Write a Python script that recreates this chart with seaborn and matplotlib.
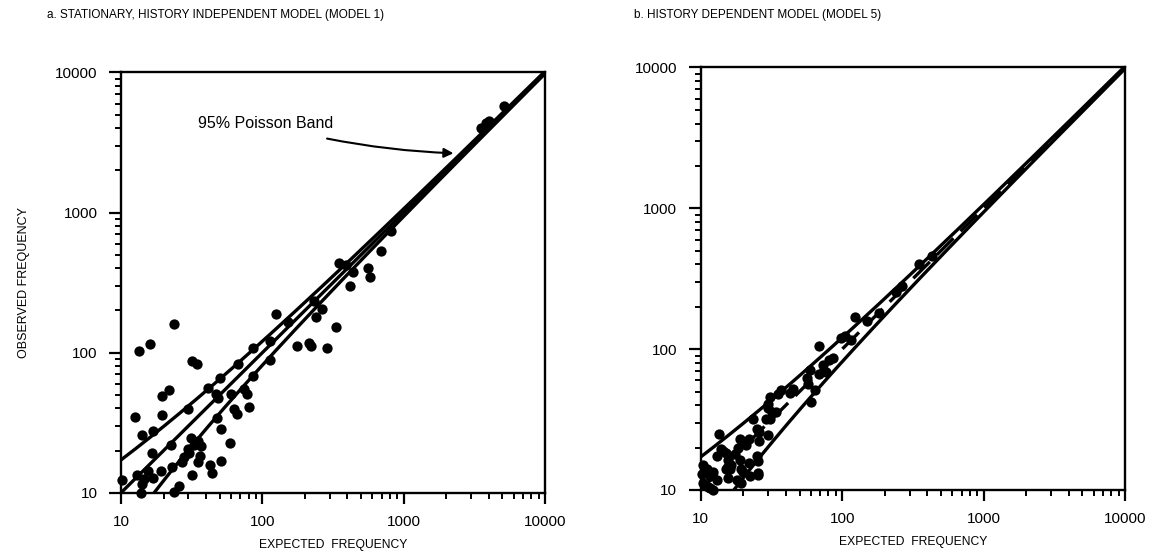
import numpy as np
import pandas as pd
import seaborn as sns
import matplotlib
matplotlib.use("Agg")
import matplotlib.pyplot as plt
from matplotlib.ticker import FixedLocator, NullFormatter, LogLocator

# ---------------- data ----------------
# Panel a: stationary, history independent model (model 1)
exp_a = [13.4, 16, 12.5, 14, 16.8, 19.4, 19.4, 21.7, 10.2, 13, 14.1, 13.8, 15.6, 16.6,
         19.1, 16.8, 22.5, 23.1, 25.8, 23.8, 29.6, 27, 32, 30.5, 31.3, 34.9, 32, 34.3,
         36.9, 35.9, 34.9, 41, 42.8, 44.2, 47.2, 48.5, 47.7, 51.3, 51.3, 49.9, 59.4,
         60.4, 62.8, 65.6, 67.4, 74, 77.4, 80.7, 86.2, 85.4, 113.5, 113.5, 176, 213,
         222, 285, 330, 125, 153, 231, 238, 266, 349, 390, 435, 418, 562, 581, 693, 817,
         3500, 3800, 4000, 5100, 23.8, 30, 28, 33, 14.5]
obs_a = [102, 116, 35, 26, 27.5, 35.6, 49, 54, 12.3, 13.4, 11.6, 10, 14.2, 19.2,
         14.2, 12.8, 22, 15.2, 11.2, 10.2, 39.8, 16.7, 13.3, 19.2, 24.6, 23.3, 87.5, 83,
         21.4, 18.4, 16.7, 55.5, 15.8, 13.8, 50.5, 47.8, 34.3, 28.7, 16.9, 65.5, 22.7,
         50.5, 39.4, 36.2, 83, 54.8, 50.5, 41.1, 68.3, 108, 89, 122, 112, 117.5,
         111, 108, 152, 190, 166, 233, 180, 204, 435, 419, 374, 301, 400, 348, 528, 735,
         4000, 4350, 4500, 5800, 160, 20.5, 18, 21.8, 12.5]

# Panel b: history dependent model (model 5)
exp_b = [69, 98, 104, 116, 86, 81, 73, 77, 56, 57, 64, 60.5, 45, 43, 37, 35, 31, 30,
         32, 34, 29, 23.5, 25, 26, 30, 22, 21, 19, 13.5, 14, 15, 13, 17.5, 16.5, 20,
         25, 25.5, 25.5, 22, 18, 19.4, 15.6, 15.2, 10.4, 11, 12.3, 11.6, 10.4, 11.6,
         12.3, 13, 18.4, 14.4, 15.6, 20, 31, 30, 26, 19, 19.4, 16, 22.2, 25.3,
         124, 151, 59, 69, 183, 350, 430, 240, 267, 10.2, 11.2]
obs_b = [105, 120, 123, 117, 86, 84, 77, 69, 62, 57, 51, 42, 52, 49, 51, 48, 46, 38,
         36, 36, 32, 32, 27, 25.6, 24.5, 23, 21, 23, 25, 19.4, 18.4, 17.4, 18, 15, 13.5,
         17.4, 16, 12.8, 15.6, 11.8, 11.2, 12.1, 14, 15, 14, 13.5, 12.5, 11.2, 10.3,
         10, 11.8, 20, 19, 16.4, 22, 31.8, 41, 22.2, 16.4, 14, 14, 12.5, 13.2,
         169, 158, 71, 67, 181, 400, 455, 255, 280, 13, 10.5]

titles = ["a. STATIONARY, HISTORY INDEPENDENT MODEL (MODEL 1)",
          "b. HISTORY DEPENDENT MODEL (MODEL 5)"]
major_ticks = [10, 100, 1000, 10000]
tick_labels = ["10", "100", "1000", "10000"]
z95 = 1.96  # 95% Poisson band (square-root scale)

# ---------------- style ----------------
sns.set_theme(style="ticks")
plt.rcParams["font.family"] = ["Liberation Sans", "DejaVu Sans"]
plt.rcParams["text.color"] = "black"
plt.rcParams["axes.labelcolor"] = "black"
plt.rcParams["xtick.color"] = "black"
plt.rcParams["ytick.color"] = "black"
plt.rcParams["xtick.labelcolor"] = "black"
plt.rcParams["ytick.labelcolor"] = "black"
plt.rcParams["axes.linewidth"] = 1.7
plt.rcParams["xtick.major.width"] = 1.6
plt.rcParams["ytick.major.width"] = 1.6
plt.rcParams["xtick.minor.width"] = 1.4
plt.rcParams["ytick.minor.width"] = 1.4
plt.rcParams["xtick.major.size"] = 8
plt.rcParams["ytick.major.size"] = 9
plt.rcParams["xtick.minor.size"] = 4.5
plt.rcParams["ytick.minor.size"] = 4.5

fig = plt.figure(figsize=(11.54, 5.53), dpi=100)
axa = fig.add_axes([0.1049, 0.109, 0.3674, 0.760])
axb = fig.add_axes([0.6072, 0.114, 0.3677, 0.764])

grid = np.logspace(1, 4, 400)
band = pd.DataFrame({
    "E": np.concatenate([grid, grid, grid]),
    "O": np.concatenate([(np.sqrt(grid) + z95 / 2) ** 2, grid,
                         (np.sqrt(grid) - z95 / 2) ** 2]),
    "line": ["upper"] * len(grid) + ["mid"] * len(grid) + ["lower"] * len(grid),
})

for ax, ex, ob, title, dashed_mid in [(axa, exp_a, obs_a, titles[0], False),
                                      (axb, exp_b, obs_b, titles[1], True)]:
    ax.set_xscale("log")
    ax.set_yscale("log")
    for name in ["upper", "mid", "lower"]:
        sub = band[band["line"] == name]
        ls = (0, (7, 3)) if (dashed_mid and name == "mid") else "-"
        sns.lineplot(data=sub, x="E", y="O", ax=ax, color="black", lw=2.4,
                     linestyle=ls, sort=False, estimator=None)
    df = pd.DataFrame({"E": ex, "O": ob})
    sns.scatterplot(data=df, x="E", y="O", ax=ax, color="black", s=55,
                    edgecolor="black", linewidth=0, clip_on=False, zorder=5)
    ax.set_xlim(10, 10000)
    ax.set_ylim(10, 10000)
    for axis in (ax.xaxis, ax.yaxis):
        axis.set_major_locator(FixedLocator(major_ticks))
        axis.set_minor_locator(LogLocator(base=10, subs=np.arange(2, 10)))
        axis.set_minor_formatter(NullFormatter())
    ax.set_xticklabels(tick_labels)
    ax.set_yticklabels(tick_labels)
    ax.tick_params(axis="both", which="both", direction="out", colors="black",
                   labelsize=11)
    ax.tick_params(axis="x", pad=8)
    ax.tick_params(axis="y", pad=8)
    for sp in ax.spines.values():
        sp.set_visible(True)
        sp.set_color("black")
    ax.set_xlabel("EXPECTED  FREQUENCY", fontsize=8.7, labelpad=7)
    ax.set_ylabel("")
    ax.grid(False)

axa.set_ylabel("OBSERVED FREQUENCY", fontsize=9, labelpad=18)

axa.annotate("95% Poisson Band", xy=(2250, 2650), xytext=(105, 4300),
             fontsize=11.5, ha="center", va="center", color="black",
             arrowprops=dict(arrowstyle="-|>", color="black", lw=1.5,
                             connectionstyle="arc3,rad=0.06",
                             shrinkA=14, shrinkB=0, mutation_scale=14))

fig.text(0.041, 0.972, titles[0], fontsize=8.5, ha="left", va="center")
fig.text(0.549, 0.972, titles[1], fontsize=8.5, ha="left", va="center")

fig.savefig("out.png", dpi=100, facecolor="white")
